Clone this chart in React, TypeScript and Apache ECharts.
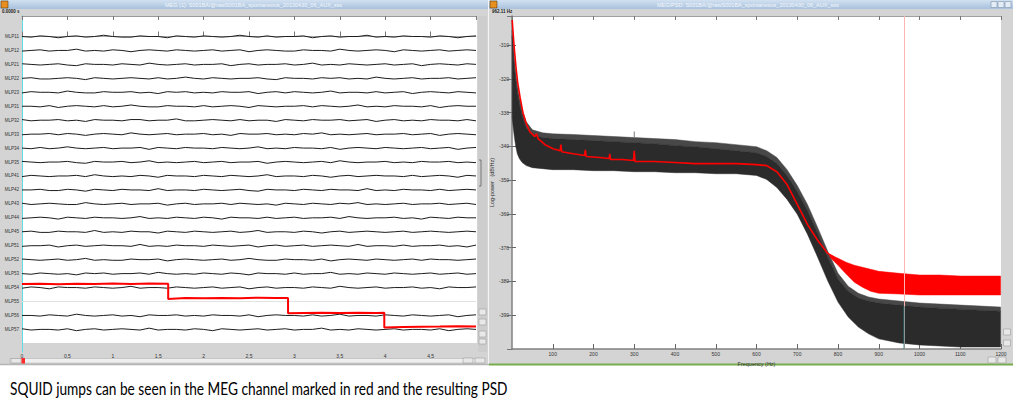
import React, { useEffect, useRef } from "react";
import * as echarts from "echarts";

// ---------------- Left window: MEG time series ----------------
const channelNames = [
  "MLP11", "MLP12", "MLP21", "MLP22", "MLP23", "MLP31", "MLP32", "MLP33", "MLP34", "MLP35",
  "MLP41", "MLP42", "MLP43", "MLP44", "MLP45", "MLP51", "MLP52", "MLP53", "MLP54", "MLP55",
  "MLP56", "MLP57",
];
const timeSamples = [
  0, 0.1, 0.2, 0.3, 0.4, 0.5, 0.6, 0.7, 0.8, 0.9, 1.0, 1.1, 1.2, 1.3, 1.4, 1.5, 1.6, 1.7, 1.8, 1.9,
  2.0, 2.1, 2.2, 2.3, 2.4, 2.5, 2.6, 2.7, 2.8, 2.9, 3.0, 3.1, 3.2, 3.3, 3.4, 3.5, 3.6, 3.7, 3.8, 3.9,
  4.0, 4.1, 4.2, 4.3, 4.4, 4.5, 4.6, 4.7, 4.8, 4.9, 5.0,
];
// small fluctuations of each black trace around its own row (units of 0.045 row)
const mlp11 = [0,1,-1,0,2,0,-1,1,0,-2, 0,1,1,-1,0,0,2,-1,0,1, -1,0,1,0,-2,0,1,-1,1,0, 0,-1,2,0,-1,1,0,0,-2,1, 0,1,-1,0,0,1,-1,0,2,0, -1];
const mlp12 = [1,0,-1,1,0,0,-2,1,0,1, -1,0,2,0,-1,0,1,-1,0,1, 0,-1,1,0,-1,2,0,-1,0,1, 1,-1,0,0,1,-2,0,1,0,-1, 0,2,-1,0,1,0,-1,1,0,-1, 0];
const mlp21 = [-1,0,1,0,-1,1,2,-1,0,0, 1,-1,0,1,-2,0,1,0,-1,1, 0,0,-1,2,0,-1,1,0,0,-1, 1,0,-2,1,0,1,-1,0,1,0, -1,1,0,-1,2,0,-1,0,1,-1, 0];
const mlp22 = [0,-1,1,1,0,-1,0,2,-1,0, 1,0,-1,0,1,-1,1,0,-2,0, 1,-1,0,1,0,0,-1,1,2,-1, 0,0,1,-1,0,-1,1,0,1,-2, 0,1,0,-1,1,0,0,-1,1,0, -1];
const mlp23 = [1,-1,0,0,1,-2,0,1,1,-1, 0,0,-1,1,0,2,-1,0,-1,1, 0,1,-1,0,0,-1,2,0,-1,1, -1,0,1,0,-2,1,0,0,1,-1, 1,0,-1,2,0,-1,0,1,-1,0, 1];
const mlp31 = [0,0,1,-1,2,0,-1,0,1,-1, 1,0,-2,0,1,1,-1,0,0,1, -1,1,0,-1,0,2,-1,0,1,0, 0,-1,1,-1,0,1,0,-2,1,0, 1,-1,0,0,1,-1,2,0,-1,0, 0];
const mlp32 = [-1,1,0,0,-1,1,0,2,-1,0, 0,1,-1,-1,1,0,0,-2,1,1, 0,-1,0,1,-1,1,0,0,2,-1, 0,1,-1,0,0,-1,1,0,-1,2, 0,-1,1,0,1,-1,0,0,1,-1, 1];
const mlp33 = [1,0,0,-1,1,-1,0,2,0,-1, 0,1,-2,0,1,0,-1,1,0,0, -1,1,0,2,-1,0,0,-1,1,0, 1,-1,0,-2,1,0,1,0,-1,1, 0,0,-1,1,0,-1,2,0,-1,0, 1];
const mlp34 = [0,1,-1,1,0,-2,0,1,0,-1, 1,0,0,-1,2,-1,0,1,-1,0, 0,1,-1,0,1,0,-2,1,0,1, -1,0,0,1,-1,2,0,-1,0,1, -1,0,1,0,-1,1,0,-1,2,0, -1];
const mlp35 = [-1,0,1,0,0,-1,1,2,-1,0, 0,-1,1,0,-2,1,0,1,0,-1, 1,0,-1,1,0,0,-1,2,0,-1, 0,1,0,-1,1,-2,0,1,0,0, -1,1,0,1,-1,0,0,-1,1,0, 1];
const mlp41 = [1,-1,0,1,0,0,-1,1,-2,0, 1,0,1,-1,0,2,-1,0,0,1, -1,0,1,-1,0,1,0,-2,1,0, 0,1,-1,0,2,0,-1,1,0,-1, 0,0,1,-1,1,0,-1,0,2,-1, 0];
const mlp42 = [0,0,-1,1,1,-1,0,2,-1,0, 1,-1,0,0,1,-2,1,0,0,1, -1,0,1,0,-1,1,2,-1,0,0, 1,-1,0,1,-1,0,0,1,-2,1, 0,1,-1,0,0,1,-1,1,0,-1, 0];
const mlp43 = [-1,1,0,-1,0,1,1,-2,0,1, 0,-1,1,0,0,-1,2,0,-1,1, 0,0,-1,1,-1,0,1,0,2,-1, 0,1,-1,0,1,-1,0,-2,1,0, 1,0,-1,1,0,0,-1,1,0,-1, 1];
const mlp44 = [1,0,-1,0,2,-1,0,1,-1,0, 0,1,0,-2,1,0,1,-1,0,1, -1,0,2,-1,0,0,1,-1,1,0, -1,1,0,0,-1,1,-2,0,1,0, 0,-1,1,0,2,-1,0,1,-1,0, 0];
const mlp45 = [0,-1,1,1,-1,0,0,1,-2,1, 0,1,-1,0,0,2,-1,0,1,-1, 0,1,0,-1,1,0,-2,1,0,0, 1,-1,0,2,0,-1,1,0,-1,0, 1,0,-1,1,0,-1,0,1,0,-1, 0];
const mlp51 = [1,0,0,-1,2,0,-1,1,0,-1, 0,0,1,-2,1,0,1,-1,0,0, 1,-1,0,1,0,-1,2,0,-1,1, 0,-1,1,0,-1,0,1,-2,1,0, 0,1,-1,1,0,0,-1,1,0,2, -1];
const mlp52 = [-1,0,1,0,-1,1,0,-2,1,0, 1,1,-1,0,0,-1,2,0,-1,0, 1,0,-1,1,0,-2,0,1,1,-1, 0,0,1,-1,2,0,-1,0,1,-1, 0,1,0,-1,1,-1,0,0,1,0, -1];
const mlp53 = [0,1,-1,0,1,0,2,-1,0,-1, 1,0,0,-1,1,-2,0,1,0,1, -1,0,1,-1,0,2,-1,0,0,1, -1,1,0,0,-2,1,0,1,-1,0, 1,-1,0,1,0,-1,1,0,-1,1, 0];
const mlp54 = [1,-1,0,2,-1,0,0,1,-1,0, 1,0,-2,1,0,0,1,-1,0,1, 0,-1,1,0,-1,2,0,-1,1,0, 0,1,-1,0,1,-2,0,1,0,-1, 1,0,0,-1,1,0,2,-1,0,0, -1];
const mlp56 = [0,0,1,-1,0,1,-2,0,1,0, -1,1,0,2,-1,0,0,-1,1,0, 1,-1,0,0,1,-1,2,0,-1,0, 0,1,-1,1,0,-2,1,0,0,1, -1,0,1,-1,0,1,0,-1,2,0, -1];
const mlp57 = [-1,1,0,0,1,-1,2,0,-1,1, 0,-1,0,1,-2,1,0,0,1,-1, 0,2,-1,0,1,0,-1,1,0,-1, 1,0,0,-2,1,0,1,-1,0,1, 0,-1,1,0,0,1,-1,2,0,-1, 0];
const blackChannels = [
  { name: "MLP11", noise: mlp11 }, { name: "MLP12", noise: mlp12 }, { name: "MLP21", noise: mlp21 },
  { name: "MLP22", noise: mlp22 }, { name: "MLP23", noise: mlp23 }, { name: "MLP31", noise: mlp31 },
  { name: "MLP32", noise: mlp32 }, { name: "MLP33", noise: mlp33 }, { name: "MLP34", noise: mlp34 },
  { name: "MLP35", noise: mlp35 }, { name: "MLP41", noise: mlp41 }, { name: "MLP42", noise: mlp42 },
  { name: "MLP43", noise: mlp43 }, { name: "MLP44", noise: mlp44 }, { name: "MLP45", noise: mlp45 },
  { name: "MLP51", noise: mlp51 }, { name: "MLP52", noise: mlp52 }, { name: "MLP53", noise: mlp53 },
  { name: "MLP54", noise: mlp54 }, { name: "MLP56", noise: mlp56 }, { name: "MLP57", noise: mlp57 },
];
const noiseUnit = 0.045;
// red channel with SQUID jumps (offset from its own row, in rows; down = positive)
const redChannel = "MLP55";
const redTime = [0, 0.2, 0.4, 0.6, 0.8, 1.0, 1.2, 1.4, 1.61, 1.61, 1.8, 2.0, 2.2, 2.4, 2.6, 2.8, 2.93, 2.93, 3.1, 3.3, 3.5, 3.7, 3.9, 3.99, 3.99, 4.2, 4.4, 4.6, 4.8, 5.0];
const redOffset = [-1.25, -1.28, -1.24, -1.27, -1.26, -1.29, -1.25, -1.3, -1.27, -0.18, -0.25, -0.23, -0.26, -0.24, -0.27, -0.25, -0.26, 0.84, 0.82, 0.81, 0.83, 0.8, 0.82, 0.81, 1.86, 1.83, 1.81, 1.8, 1.78, 1.79];
const timeMin = 0;
const timeMax = 5;
const timeInterval = 0.5;

// ---------------- Right window: PSD ----------------
const psdFreq = [0.5, 3, 6, 9, 13, 18, 25, 35, 50, 75, 100, 150, 200, 250, 300, 350, 400, 450, 500, 550, 600, 625, 650, 675, 700, 725, 750, 775, 800, 825, 850, 875, 900, 950, 1000, 1050, 1100, 1150, 1199];
const psdSparseTop = [-305.6, -310.0, -314.4, -318.0, -321.8, -325.3, -329.2, -332.7, -335.1, -336.0, -336.3, -336.5, -336.8, -337.1, -337.4, -337.7, -338.0, -338.6, -338.9, -339.5, -340.1, -341.3, -343.3, -346.9, -351.6, -357.2, -364.0, -371.1, -377.6, -381.4, -383.5, -384.6, -385.2, -385.8, -386.4, -386.7, -387.0, -387.3, -387.6];
const psdDenseTop = [-307.3, -312.1, -316.5, -320.3, -323.9, -327.4, -330.9, -334.5, -336.5, -337.4, -337.7, -338.0, -338.3, -338.6, -338.9, -339.2, -339.8, -340.1, -340.7, -341.3, -341.9, -343.0, -345.1, -348.6, -353.4, -359.0, -365.8, -372.8, -379.3, -382.9, -384.9, -385.8, -386.4, -387.0, -387.6, -387.9, -388.2, -388.5, -388.8];
const psdBottom = [-331.5, -334.5, -337.4, -339.8, -342.2, -343.6, -344.8, -345.7, -346.3, -346.6, -346.9, -346.9, -347.2, -347.2, -347.5, -347.5, -347.8, -347.8, -348.1, -348.1, -348.6, -349.8, -352.2, -355.7, -360.1, -366.0, -372.8, -379.9, -386.1, -390.5, -393.5, -395.5, -397.0, -398.2, -398.8, -399.1, -399.4, -399.4, -399.4];
const redPsdFreq = [0.5, 4, 7, 10, 14, 20, 27, 35, 44, 56, 60, 64, 81, 101, 118, 120, 122, 150, 178, 180, 182, 216, 238, 240, 242, 270, 298, 300, 302, 350, 400, 450, 500, 550, 600, 625, 650, 675, 700, 725, 750, 775, 790];
const redPsd = [-302.6, -308.5, -313.0, -316.8, -321.2, -325.6, -330.1, -333.3, -335.7, -337.1, -336.3, -337.7, -339.5, -340.7, -341.3, -339.5, -341.6, -342.2, -342.7, -341.0, -343.0, -343.3, -343.6, -342.2, -343.9, -343.9, -344.2, -341.3, -344.5, -344.5, -344.8, -345.1, -345.1, -345.1, -345.4, -345.7, -347.5, -351.3, -357.2, -363.1, -367.8, -371.7, -372.8];
const redBandFreq = [780, 800, 820, 840, 860, 880, 900, 950, 1000, 1050, 1100, 1150, 1199];
const redBandUpper = [-372.0, -373.1, -374.3, -375.2, -375.8, -376.4, -377.0, -377.6, -378.1, -378.1, -378.4, -378.4, -378.4];
const redBandLower = [-372.8, -375.2, -377.8, -380.2, -381.7, -382.9, -383.5, -383.7, -384.0, -384.0, -384.0, -384.0, -384.0];
const lineNoiseFreq = [300, 300];
const lineNoisePeak = [-337.4, -335.6];
const cursorFreq = 962.11;
const cursorOverBlack = [-387.3, -400];
const freqMin = 0;
const freqMax = 1200;
const freqInterval = 100;
const powerMin = -400;
const powerMax = -301.4;
const powerInterval = 10;

const caption = "SQUID jumps can be seen in the MEG channel marked in red and the resulting PSD";
const leftTitle = "MEG (1): S001BA/@rawS001BA_spontaneous_20130430_06_AUX_sss";
const rightTitle = "MEG/PSD: S001BA/@rawS001BA_spontaneous_20130430_06_AUX_sss";

const tinyFont = "Liberation Sans";

function bandSeries(freq: number[], upper: number[], lower: number[], color: string, z: number) {
  return {
    type: "custom",
    xAxisIndex: 2,
    yAxisIndex: 1,
    z,
    silent: true,
    data: [[freq[0], upper[0]]],
    renderItem: (_p: any, api: any) => {
      const pts: number[][] = [];
      for (let i = 0; i < freq.length; i++) pts.push(api.coord([freq[i], upper[i]]));
      for (let i = freq.length - 1; i >= 0; i--) pts.push(api.coord([freq[i], lower[i]]));
      return { type: "polygon", shape: { points: pts }, style: { fill: color, stroke: color, lineWidth: 0.5 } };
    },
  };
}

export default function App() {
  const ref = useRef<HTMLDivElement>(null);
  useEffect(() => {
    if (!ref.current) return;
    const chart = echarts.init(ref.current, undefined, { renderer: "svg" });

    const series: any[] = [];
    const redRow = channelNames.indexOf(redChannel);
    series.push({
      type: "line", xAxisIndex: 0, yAxisIndex: 0, showSymbol: false, silent: true, z: 1,
      data: [[timeMin, redRow], [timeMax, redRow]],
      lineStyle: { color: "#e2e2e2", width: 1 },
    });
    blackChannels.forEach((ch) => {
      const row = channelNames.indexOf(ch.name);
      series.push({
        type: "line", xAxisIndex: 0, yAxisIndex: 0, showSymbol: false, silent: true, z: 2,
        data: ch.noise.map((n, k) => [timeSamples[k], row + n * noiseUnit]),
        lineStyle: { color: "#1c1c1c", width: 1 },
      });
    });
    series.push({
      type: "line", xAxisIndex: 0, yAxisIndex: 0, showSymbol: false, silent: true, z: 3,
      data: redTime.map((t, k) => [t, redRow + redOffset[k]]),
      lineStyle: { color: "#ff0000", width: 2 },
    });

    // PSD
    series.push(bandSeries(psdFreq, psdSparseTop, psdDenseTop, "#484848", 2));
    series.push(bandSeries(psdFreq, psdDenseTop, psdBottom, "#2b2b2b", 2));
    series.push({
      type: "line", xAxisIndex: 2, yAxisIndex: 1, showSymbol: false, silent: true, z: 3,
      data: lineNoiseFreq.map((f, k) => [f, lineNoisePeak[k]]),
      lineStyle: { color: "#777", width: 1 },
    });
    series.push(bandSeries(redBandFreq, redBandUpper, redBandLower, "#ff0000", 4));
    series.push({
      type: "line", xAxisIndex: 2, yAxisIndex: 1, showSymbol: false, silent: true, z: 5,
      data: redPsdFreq.map((f, k) => [f, redPsd[k]]),
      lineStyle: { color: "#ff0000", width: 1.6 },
      markLine: {
        silent: true, symbol: "none", label: { show: false },
        lineStyle: { color: "#ffb4b4", width: 1, type: "solid" },
        data: [{ xAxis: cursorFreq }],
      },
    });
    series.push({
      type: "line", xAxisIndex: 2, yAxisIndex: 1, showSymbol: false, silent: true, z: 6,
      data: cursorOverBlack.map((v) => [cursorFreq, v]),
      lineStyle: { color: "#2f7f80", width: 1 },
    });

    const canvas = document.createElement("canvas").getContext("2d");
    let capScale = 1;
    if (canvas) {
      canvas.font = "17px Lato";
      const w = canvas.measureText(caption).width;
      if (w > 0) capScale = 498 / w;
    }

    const titleGrad = new echarts.graphic.LinearGradient(0, 0, 0, 1, [
      { offset: 0, color: "#d2e1f1" },
      { offset: 1, color: "#a8c1dd" },
    ]);
    const btn = (x: number, y: number, w: number, h: number) => ({
      type: "rect", z: -1, shape: { x, y, width: w, height: h },
      style: { fill: "#e8e8e8", stroke: "#9a9a9a", lineWidth: 0.6 },
    });

    const graphic: any[] = [
      { type: "rect", z: -3, shape: { x: 0, y: 0, width: 488, height: 365 }, style: { fill: "#d4d4d4" } },
      { type: "rect", z: -3, shape: { x: 489, y: 0, width: 524, height: 365 }, style: { fill: "#d4d4d4" } },
      { type: "rect", z: -2, shape: { x: 22, y: 16, width: 455, height: 327 }, style: { fill: "#ffffff" } },
      { type: "rect", z: -2, shape: { x: 512, y: 16, width: 489, height: 333 }, style: { fill: "#ffffff" } },
      { type: "line", z: -2, shape: { x1: 488.5, y1: 0, x2: 488.5, y2: 365 }, style: { stroke: "#f4f4f4", lineWidth: 1 } },
      { type: "line", z: -2, shape: { x1: 0, y1: 364.5, x2: 489, y2: 364.5 }, style: { stroke: "#b4b4b4", lineWidth: 1.5 } },
      { type: "line", z: -2, shape: { x1: 489, y1: 364.5, x2: 1013, y2: 364.5 }, style: { stroke: "#78ad4f", lineWidth: 2 } },
      { type: "rect", z: -1, shape: { x: 0, y: 0, width: 488, height: 9 }, style: { fill: titleGrad } },
      { type: "rect", z: -1, shape: { x: 489, y: 0, width: 524, height: 9 }, style: { fill: titleGrad } },
      { type: "rect", z: -1, shape: { x: 1, y: 1, width: 7, height: 7 }, style: { fill: "#e8901f", stroke: "#5a3a10", lineWidth: 0.6 } },
      { type: "rect", z: -1, shape: { x: 490, y: 1, width: 7, height: 7 }, style: { fill: "#e8901f", stroke: "#5a3a10", lineWidth: 0.6 } },
      { type: "text", z: -1, x: 165, y: 4.5, style: { text: leftTitle, fill: "#f2f6fb", fontSize: 5.5, fontFamily: tinyFont, verticalAlign: "middle" } },
      { type: "text", z: -1, x: 657, y: 4.5, style: { text: rightTitle, fill: "#f2f6fb", fontSize: 5.5, fontFamily: tinyFont, verticalAlign: "middle" } },
      { type: "rect", z: -1, shape: { x: 991, y: 1.5, width: 6, height: 6 }, style: { fill: "#e4ecf5", stroke: "#7d93ad", lineWidth: 0.6 } },
      { type: "rect", z: -1, shape: { x: 998, y: 1.5, width: 6, height: 6 }, style: { fill: "#e4ecf5", stroke: "#7d93ad", lineWidth: 0.6 } },
      { type: "rect", z: -1, shape: { x: 1005, y: 1.5, width: 6, height: 6 }, style: { fill: "#e4ecf5", stroke: "#7d93ad", lineWidth: 0.6 } },
      { type: "text", z: -1, x: 2, y: 11.5, style: { text: "0.0000 s", fill: "#222", fontSize: 4.5, fontWeight: "bold", fontFamily: tinyFont, verticalAlign: "middle" } },
      { type: "text", z: -1, x: 492, y: 11.5, style: { text: "962.11 Hz", fill: "#222", fontSize: 4.5, fontWeight: "bold", fontFamily: tinyFont, verticalAlign: "middle" } },
      { type: "rect", z: -2, shape: { x: 478, y: 16, width: 9, height: 336 }, style: { fill: "#cdcdcd" } },
      btn(479, 309, 7, 6), btn(479, 319, 7, 6), btn(479, 331, 7, 6), btn(479, 339, 7, 5),
      { type: "polyline", z: -1, shape: { points: [[479, 160], [481, 160], [481, 186], [479, 186]] }, style: { stroke: "#555", lineWidth: 0.7, fill: "none" } },
      { type: "rect", z: -1, shape: { x: 10, y: 358.5, width: 468, height: 4.5 }, style: { fill: "#efefef", stroke: "#a8a8a8", lineWidth: 0.5 } },
      btn(11, 358.5, 10, 4.5),
      { type: "rect", z: -1, shape: { x: 21.5, y: 358, width: 3.5, height: 5.5 }, style: { fill: "#ff2b2b" } },
      btn(463, 358, 10, 5), btn(475, 358, 10, 5),
      btn(1003.5, 329, 7, 6), btn(1003.5, 340, 7, 6), btn(988, 357, 8, 6), btn(998, 357, 8, 6),
      {
        type: "text", z: 10, x: 10, y: 388, scaleX: capScale,
        style: { text: caption, fill: "#000", fontSize: 17, fontFamily: "Lato", verticalAlign: "middle" },
      },
    ];

    const tinyLabel = { fontSize: 5, color: "#333", fontFamily: tinyFont };
    const plain = (v: number) => String(v);

    chart.setOption({
      animation: false,
      backgroundColor: "#ffffff",
      tooltip: { show: false },
      grid: [
        { left: 22, top: 16, width: 454, height: 336, outerBoundsMode: "none" },
        { left: 512, top: 16, width: 489, height: 333, outerBoundsMode: "none" },
      ],
      xAxis: [
        {
          type: "value", gridIndex: 0, position: "bottom", min: timeMin, max: timeMax, interval: timeInterval,
          axisLine: { show: true, lineStyle: { color: "#a8a8a8", width: 1 } },
          axisTick: { show: true, inside: true, length: 5, lineStyle: { color: "#777" } },
          axisLabel: { ...tinyLabel, margin: 1, showMaxLabel: false, formatter: (v: number) => String(v).replace(".", ",") },
          splitLine: { show: false },
        },
        {
          type: "value", gridIndex: 0, position: "top", min: timeMin, max: timeMax, interval: timeInterval,
          axisLine: { show: true, lineStyle: { color: "#9a9a9a", width: 1 } },
          axisTick: { show: true, inside: true, length: 4, lineStyle: { color: "#777" } },
          axisLabel: { show: false },
          splitLine: { show: false },
        },
        {
          type: "value", gridIndex: 1, position: "bottom", min: freqMin, max: freqMax, interval: freqInterval,
          name: "Frequency (Hz)", nameLocation: "middle", nameGap: 8,
          nameTextStyle: { fontSize: 5.5, color: "#333", fontFamily: tinyFont },
          axisLine: { show: true, lineStyle: { color: "#808080", width: 1.5 } },
          axisTick: { show: true, inside: true, length: 5, lineStyle: { color: "#666" } },
          axisLabel: { ...tinyLabel, margin: 2, showMinLabel: false, formatter: plain },
          splitLine: { show: false },
        },
        {
          type: "value", gridIndex: 1, position: "top", min: freqMin, max: freqMax, interval: freqInterval,
          axisLine: { show: true, lineStyle: { color: "#a0a0a0", width: 1 } },
          axisTick: { show: true, inside: true, length: 4, lineStyle: { color: "#777" } },
          axisLabel: { show: false },
          splitLine: { show: false },
        },
      ],
      yAxis: [
        {
          type: "value", gridIndex: 0, inverse: true, min: -1.47, max: 22.62,
          axisLine: { show: true, lineStyle: { color: "#62dbe3", width: 1 } },
          axisTick: { show: false },
          axisLabel: {
            ...tinyLabel, fontSize: 4.5, margin: 3,
            customValues: channelNames.map((_, i) => i),
            formatter: (v: number) => channelNames[Math.round(v)] ?? "",
          },
          splitLine: { show: false },
        },
        {
          type: "value", gridIndex: 1, position: "left", min: powerMin, max: powerMax, interval: powerInterval,
          name: "Log-power   (dB/Hz)", nameLocation: "middle", nameGap: 15, nameRotate: 90,
          nameTextStyle: { fontSize: 5.5, color: "#333", fontFamily: tinyFont },
          axisLine: { show: true, lineStyle: { color: "#808080", width: 1.5 } },
          axisTick: { show: true, inside: true, length: 4, lineStyle: { color: "#666" } },
          axisLabel: { ...tinyLabel, margin: 3, showMinLabel: false, showMaxLabel: false, formatter: plain },
          splitLine: { show: false },
        },
        {
          type: "value", gridIndex: 1, position: "right", min: powerMin, max: powerMax, interval: powerInterval,
          axisLine: { show: true, lineStyle: { color: "#a0a0a0", width: 1 } },
          axisTick: { show: true, inside: true, length: 5, lineStyle: { color: "#777" } },
          axisLabel: { show: false },
          splitLine: { show: false },
        },
      ],
      graphic,
      series,
    });
    return () => chart.dispose();
  }, []);
  return <div ref={ref} style={{ position: "absolute", left: 0, top: 0, width: 1013, height: 416 }} />;
}
